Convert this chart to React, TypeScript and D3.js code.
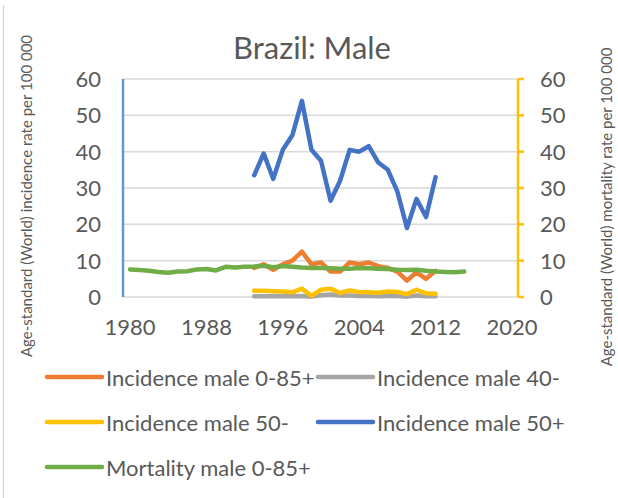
import React from "react";
import * as d3 from "d3";

const yearsInc = d3.range(1993, 2013);
const yearsMort = d3.range(1980, 2016);
const incAll = [8, 9, 7.5, 9, 10, 12.5, 9, 9.5, 7, 7, 9.5, 9, 9.5, 8.5, 8, 7, 4.5, 6.8, 5, 7.2];
const inc40 = [0.2, 0.2, 0.2, 0.2, 0.2, 0.3, 0.1, 0.5, 0.7, 0.4, 0.4, 0.3, 0.3, 0.2, 0.3, 0.3, 0.1, 0.4, 0.2, 0.2];
const inc50minus = [1.7, 1.7, 1.6, 1.5, 1.3, 2.3, 0.3, 2.0, 2.3, 1.1, 1.8, 1.4, 1.3, 1.2, 1.5, 1.4, 0.8, 2.0, 1.0, 0.9];
const inc50plus = [33.5, 39.5, 32.5, 40.5, 44.5, 54, 40.5, 37.5, 26.5, 32, 40.5, 40, 41.5, 37, 35, 29, 19, 27, 22, 33];
const mortAll = [7.6, 7.4, 7.2, 6.9, 6.7, 7.0, 7.1, 7.6, 7.7, 7.3, 8.3, 8.1, 8.3, 8.4, 8.6, 8.2, 8.5, 8.3, 8.1, 8.0, 8.0, 7.9, 7.8, 7.8, 8.0, 7.9, 7.8, 7.7, 7.5, 7.4, 7.5, 7.2, 7.0, 6.9, 6.8, 7.0];
const xTicks = [1980, 1988, 1996, 2004, 2012, 2020];
const yTicks = [0, 10, 20, 30, 40, 50, 60];

const series = [
  { name: "Incidence male 0-85+", color: "#ed7d31", years: yearsInc, values: incAll },
  { name: "Incidence male 40-", color: "#a5a5a5", years: yearsInc, values: inc40 },
  { name: "Incidence male 50-", color: "#ffc000", years: yearsInc, values: inc50minus },
  { name: "Incidence male 50+", color: "#4472c4", years: yearsInc, values: inc50plus },
  { name: "Mortality male 0-85+", color: "#70ad47", years: yearsMort, values: mortAll },
];

const FONT = "Lato, 'Open Sans', sans-serif";
const TXT = "#595959";

export default function App() {
  const x = d3.scaleLinear().domain([1980, 2020]).range([130, 512]);
  const yL = d3.scaleLinear().domain([0, 60]).range([297, 79]);
  const yR = d3.scaleLinear().domain([0, 60]).range([297, 79]);
  const plotL = 123, plotR = 518;

  const legendPos = [
    { lx: 47, ly: 377 },
    { lx: 318, ly: 377 },
    { lx: 47, ly: 422 },
    { lx: 318, ly: 422 },
    { lx: 47, ly: 467 },
  ];

  return (
    <svg width={618} height={498} style={{ position: "absolute", left: 0, top: 0, background: "#fff" }}>
      <rect x={0} y={0} width={618} height={498} fill="#fff" />
      <line x1={3.5} x2={3.5} y1={5} y2={498} stroke="#d9d9d9" strokeWidth={1.5} />
      <text x={312} y={59} textAnchor="middle" fontFamily={FONT} fontSize={31} fill={TXT}>Brazil: Male</text>
      {yTicks.map((t) => (
        <line key={"g" + t} x1={plotL} x2={plotR} y1={yL(t)} y2={yL(t)} stroke="#d9d9d9" strokeWidth={1.5} />
      ))}
      {series.map((s, i) => {
        const yS = i === 4 ? yR : yL;
        const line = d3.line<number>().x((_, j) => x(s.years[j])).y((v) => yS(v));
        return (
          <path key={s.name} d={line(s.values) || ""} fill="none" stroke={s.color} strokeWidth={4.5}
            strokeLinejoin="round" strokeLinecap="round" />
        );
      })}
      <line x1={plotL} x2={plotL} y1={yL(60)} y2={yL(0)} stroke="#5b9bd5" strokeWidth={2.5} />
      <line x1={plotR} x2={plotR} y1={yR(60)} y2={yR(0)} stroke="#ffc000" strokeWidth={2.5} />
      {yTicks.map((t) => (
        <line key={"rt" + t} x1={plotR} x2={plotR + 6} y1={yR(t)} y2={yR(t)} stroke="#ffc000" strokeWidth={2.5} />
      ))}
      {yTicks.map((t) => (
        <text key={"yl" + t} x={101} y={yL(t) + 8} textAnchor="end" fontFamily={FONT} fontSize={22} fill={TXT}>{t}</text>
      ))}
      {yTicks.map((t) => (
        <text key={"yr" + t} x={540} y={yR(t) + 8} textAnchor="start" fontFamily={FONT} fontSize={22} fill={TXT}>{t}</text>
      ))}
      {xTicks.map((t) => (
        <text key={"x" + t} x={x(t)} y={335} textAnchor="middle" fontFamily={FONT} fontSize={22} fill={TXT}>{t}</text>
      ))}
      <text transform="translate(32,196) rotate(-90)" textAnchor="middle" fontFamily={FONT} fontSize={15} fill={TXT}>
        Age-standard (World) incidence rate per 100 000
      </text>
      <text transform="translate(612,207) rotate(-90)" textAnchor="middle" fontFamily={FONT} fontSize={15} fill={TXT}>
        Age-standard (World) mortality rate per 100 000
      </text>
      {series.map((s, i) => {
        const p = legendPos[i];
        return (
          <g key={"lg" + i}>
            <line x1={p.lx} x2={p.lx + 55} y1={p.ly} y2={p.ly} stroke={s.color} strokeWidth={4.5} strokeLinecap="round" />
            <text x={p.lx + 59} y={p.ly + 9} fontFamily={FONT} fontSize={22} fill={TXT}>{s.name}</text>
          </g>
        );
      })}
    </svg>
  );
}
